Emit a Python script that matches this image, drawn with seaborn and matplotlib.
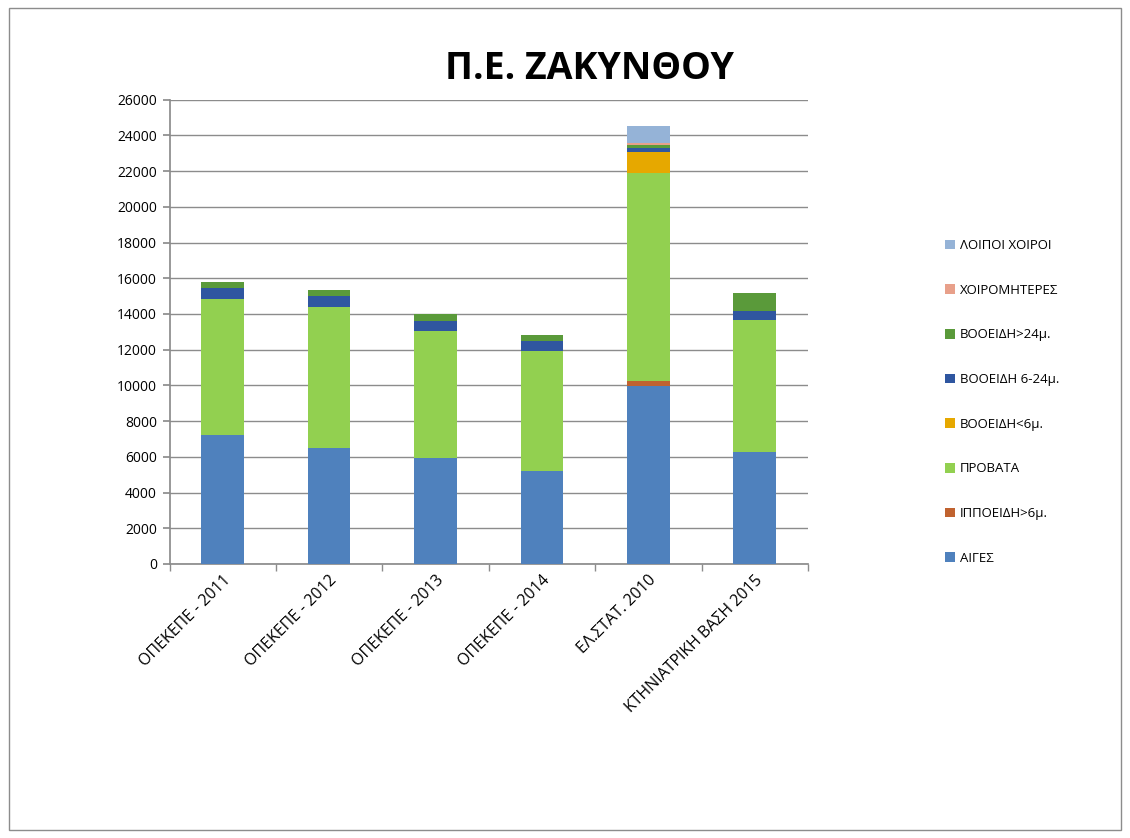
import pandas as pd
import numpy as np
import matplotlib
matplotlib.use("Agg")
import matplotlib.pyplot as plt
from matplotlib.patches import Patch, Rectangle
import seaborn as sns

# Data
categories = ['ΟΠΕΚΕΠΕ - 2011', 'ΟΠΕΚΕΠΕ - 2012', 'ΟΠΕΚΕΠΕ - 2013',
              'ΟΠΕΚΕΠΕ - 2014', 'ΕΛ.ΣΤΑΤ. 2010', 'ΚΤΗΝΙΑΤΡΙΚΗ ΒΑΣΗ 2015']
series_names = ['ΑΙΓΕΣ', 'ΙΠΠΟΕΙΔΗ>6μ.', 'ΠΡΟΒΑΤΑ', 'ΒΟΟΕΙΔΗ<6μ.',
                'ΒΟΟΕΙΔΗ 6-24μ.', 'ΒΟΟΕΙΔΗ>24μ.', 'ΧΟΙΡΟΜΗΤΕΡΕΣ', 'ΛΟΙΠΟΙ ΧΟΙΡΟΙ']
aiges = [7200, 6480, 5930, 5220, 9950, 6250]
ippoeidh = [0, 0, 0, 0, 300, 0]
provata = [7630, 7900, 7130, 6720, 11650, 7410]
booeidh_lt6 = [0, 0, 0, 0, 1180, 0]
booeidh_6_24 = [600, 650, 560, 560, 190, 520]
booeidh_gt24 = [350, 330, 380, 340, 220, 970]
xoiromhteres = [0, 0, 0, 0, 60, 0]
loipoi_xoiroi = [0, 0, 0, 0, 980, 0]

colors = ['#4F81BD', '#C0622F', '#92D050', '#E6A800',
          '#2F56A0', '#5A9A3A', '#E8A08A', '#95B3D7']

layers = [aiges, ippoeidh, provata, booeidh_lt6, booeidh_6_24,
          booeidh_gt24, xoiromhteres, loipoi_xoiroi]
cum = np.cumsum(np.array(layers), axis=0)

sns.set_theme(style="white")
plt.rcParams['font.family'] = ['Open Sans', 'DejaVu Sans']
plt.rcParams['text.color'] = 'black'
plt.rcParams['xtick.color'] = 'black'
plt.rcParams['ytick.color'] = 'black'

fig = plt.figure(figsize=(11.3, 8.38), dpi=100)
ax = fig.add_axes([0.150, 0.327, 0.565, 0.554])

# stacked bars: draw the tallest cumulative layer first, then overdraw
for i in range(len(layers) - 1, -1, -1):
    df = pd.DataFrame({'cat': categories, 'val': cum[i]})
    sns.barplot(data=df, x='cat', y='val', color=colors[i], width=0.4,
                saturation=1, ax=ax, order=categories, zorder=3, linewidth=0)

ax.set_ylim(0, 26000)
ax.set_yticks(range(0, 26001, 2000))
ax.set_xlim(-0.5, 5.5)
ax.yaxis.grid(True, color='#8c8c8c', linewidth=1)
ax.set_axisbelow(True)
ax.set_xlabel('')
ax.set_ylabel('')
for s in ['top', 'right']:
    ax.spines[s].set_visible(False)
for s in ['left', 'bottom']:
    ax.spines[s].set_color('#8c8c8c')

ax.tick_params(axis='y', which='major', left=True, length=5, color='#8c8c8c', labelsize=10, pad=4)
ax.tick_params(axis='x', which='major', length=0, labelsize=11.5, pad=6)
ax.set_xticks(np.arange(-0.5, 6.0, 1.0), minor=True)
ax.tick_params(axis='x', which='minor', bottom=True, length=5, color='#8c8c8c')
ax.set_xticks(range(len(categories)))
ax.set_xticklabels(categories, rotation=45, ha='right', rotation_mode='anchor')

fig.text(0.522, 0.918, 'Π.Ε. ΖΑΚΥΝΘΟΥ', ha='center', va='center',
         fontsize=27, fontweight='bold')

handles = [Patch(facecolor=colors[i], edgecolor='none') for i in range(len(layers) - 1, -1, -1)]
labels = [series_names[i] for i in range(len(layers) - 1, -1, -1)]
fig.legend(handles, labels, loc='upper left', bbox_to_anchor=(0.826, 0.729),
           frameon=False, fontsize=9.5, handlelength=0.75, handleheight=0.75,
           handletextpad=0.35, labelspacing=2.4)

# outer chart frame
fig.patches.append(Rectangle((0.008, 0.01), 0.984, 0.98, transform=fig.transFigure,
                             fill=False, edgecolor='#8c8c8c', linewidth=1))

plt.savefig('out.png', dpi=100)
